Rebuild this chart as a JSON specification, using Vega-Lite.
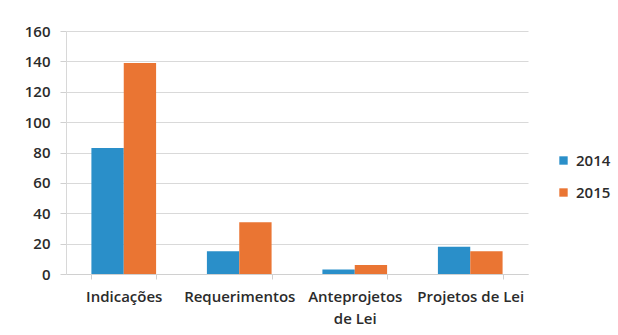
{
  "$schema": "https://vega.github.io/schema/vega-lite/v6.json",
  "width": 462,
  "height": 243,
  "autosize": {"type": "none"},
  "padding": {"left": 66, "top": 31, "right": 90, "bottom": 61},
  "background": "white",
  "data": {
    "values": [
      {"tipo": "Indicações", "ano": "2014", "total": 83},
      {"tipo": "Indicações", "ano": "2015", "total": 139},
      {"tipo": "Requerimentos", "ano": "2014", "total": 15},
      {"tipo": "Requerimentos", "ano": "2015", "total": 34},
      {"tipo": "Anteprojetos de Lei", "ano": "2014", "total": 3},
      {"tipo": "Anteprojetos de Lei", "ano": "2015", "total": 6},
      {"tipo": "Projetos de Lei", "ano": "2014", "total": 18},
      {"tipo": "Projetos de Lei", "ano": "2015", "total": 15}
    ]
  },
  "mark": {"type": "bar"},
  "encoding": {
    "x": {
      "field": "tipo",
      "type": "nominal",
      "sort": null,
      "scale": {"paddingInner": 0.44, "paddingOuter": 0.22},
      "axis": {
        "title": null,
        "labelAngle": 0,
        "tickBand": "extent",
        "tickSize": 5,
        "tickColor": "#d0d0d0",
        "domainColor": "#d0d0d0",
        "labelPadding": 10,
        "labelFontSize": 15,
        "labelFont": "Open Sans",
        "labelFontWeight": 600,
        "labelColor": "#2b2b2b",
        "labelLineHeight": 22,
        "labelExpr": "datum.value == 'Anteprojetos de Lei' ? ['Anteprojetos', 'de Lei'] : datum.value"
      }
    },
    "xOffset": {"field": "ano", "type": "nominal", "scale": {"paddingInner": 0}},
    "y": {
      "field": "total",
      "type": "quantitative",
      "scale": {"domain": [0, 160]},
      "axis": {
        "title": null,
        "values": [0, 20, 40, 60, 80, 100, 120, 140, 160],
        "tickSize": 6,
        "tickColor": "#d0d0d0",
        "domain": true,
        "domainColor": "#d8d8d8",
        "gridColor": "#d9d9d9",
        "labelPadding": 10,
        "labelFontSize": 15,
        "labelFont": "Open Sans",
        "labelFontWeight": 600,
        "labelColor": "#2b2b2b"
      }
    },
    "color": {
      "field": "ano",
      "type": "nominal",
      "scale": {"range": ["#2a8fc9", "#ea7533"]},
      "legend": {
        "title": null,
        "orient": "none",
        "legendX": 490,
        "legendY": 122,
        "symbolType": "square",
        "symbolSize": 70,
        "symbolStrokeWidth": 0,
        "labelFontSize": 15,
        "labelFont": "Open Sans",
        "labelFontWeight": 600,
        "labelColor": "#2b2b2b",
        "rowPadding": 16,
        "labelOffset": 5
      }
    }
  },
  "config": {"view": {"stroke": null}}
}
